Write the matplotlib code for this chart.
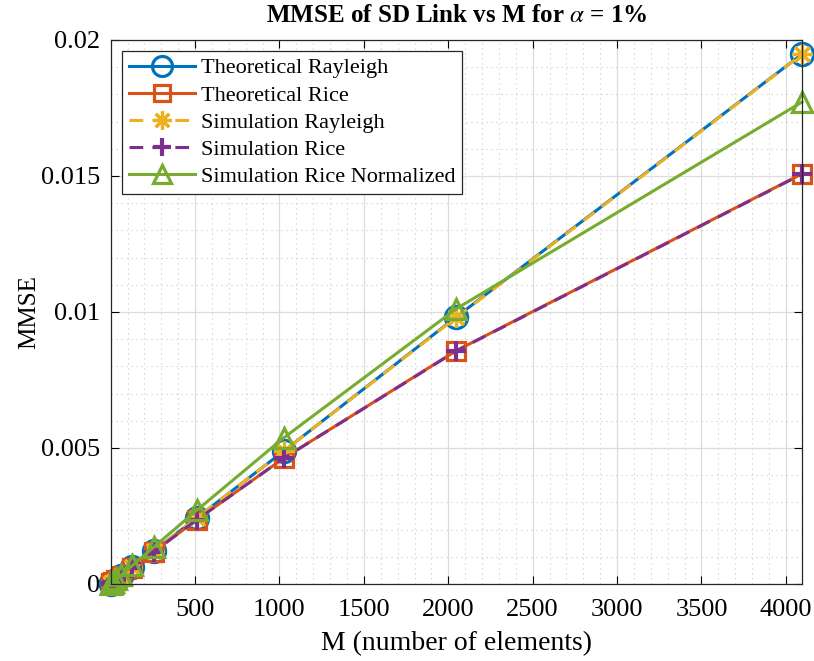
import matplotlib
matplotlib.use("Agg")
import matplotlib.pyplot as plt
from matplotlib.ticker import MultipleLocator

plt.rcParams['font.family'] = ['Liberation Serif', 'DejaVu Serif']
plt.rcParams['mathtext.fontset'] = 'stix'

M = [2, 4, 8, 16, 32, 64, 128, 256, 512, 1024, 2048, 4096]

theo_rayleigh = [0.0000095, 0.000019, 0.000038, 0.000076, 0.000152, 0.000305,
                 0.00061, 0.00122, 0.00244, 0.00488, 0.00982, 0.01948]
theo_rice = [0.0000095, 0.000019, 0.000038, 0.000075, 0.00015, 0.000298,
             0.000595, 0.00119, 0.00237, 0.00462, 0.00858, 0.01508]
sim_rayleigh = [0.0000095, 0.000019, 0.000038, 0.000076, 0.000152, 0.000305,
                0.00061, 0.00122, 0.00244, 0.00488, 0.00980, 0.01947]
sim_rice = [0.0000095, 0.000019, 0.000038, 0.000075, 0.00015, 0.000298,
            0.000595, 0.00119, 0.00237, 0.00462, 0.00857, 0.01507]
sim_rice_norm = [0.0000105, 0.000021, 0.000042, 0.000084, 0.000168, 0.000336,
                 0.00068, 0.00136, 0.00272, 0.00537, 0.01012, 0.01772]

labels = ['Theoretical Rayleigh', 'Theoretical Rice', 'Simulation Rayleigh',
          'Simulation Rice', 'Simulation Rice Normalized']
colors = ['#0072BD', '#D95319', '#EDB120', '#7E2F8E', '#77AC30']

fig = plt.figure(figsize=(8.14, 6.61), dpi=100)
ax = fig.add_axes([0.1364, 0.1165, 0.8489, 0.823])

lw = 2.2
common = dict(lw=lw, clip_on=False)
ax.plot(M, theo_rayleigh, '-', marker='o', color=colors[0], ms=16,
        mew=2.3, mfc='none', label=labels[0], **common)
ax.plot(M, theo_rice, '-', marker='s', color=colors[1], ms=13,
        mew=2.3, mfc='none', label=labels[1], **common)
ax.plot(M, sim_rayleigh, '--', marker=(8, 2, 0), color=colors[2], ms=15,
        mew=2.3, label=labels[2], dashes=(4.5, 3), **common)
ax.plot(M, sim_rice, '--', marker='+', color=colors[3], ms=15,
        mew=3, label=labels[3], dashes=(4.5, 3), **common)
ax.plot(M, sim_rice_norm, '-', marker='^', color=colors[4], ms=15,
        mew=2.3, mfc='none', label=labels[4], **common)

ax.set_xlim(2, 4096)
ax.set_ylim(0, 0.02)
ax.set_xticks([500, 1000, 1500, 2000, 2500, 3000, 3500, 4000])
ax.set_yticks([0, 0.005, 0.01, 0.015, 0.02])
ax.set_yticklabels(['0', '0.005', '0.01', '0.015', '0.02'])
ax.xaxis.set_minor_locator(MultipleLocator(100))
ax.yaxis.set_minor_locator(MultipleLocator(0.001))

ax.grid(which='major', color='#dcdcdc', lw=0.9, ls='-')
ax.grid(which='minor', color='#c8c8c8', lw=0.8, ls=(0, (1, 3.5)))
ax.set_axisbelow(True)

ax.tick_params(which='both', direction='in', top=True, right=True,
               labelsize=19, length=6, width=0.8)
ax.tick_params(axis='x', pad=11)
ax.tick_params(axis='y', pad=8)
ax.tick_params(which='minor', length=0)
for s in ax.spines.values():
    s.set_linewidth(0.9)
    s.set_color('#262626')

ax.set_xlabel('M (number of elements)', fontsize=20, labelpad=7)
ax.set_ylabel('MMSE', fontsize=18, labelpad=0)
ax.set_title(r'MMSE of SD Link vs M for $\alpha$ = 1%', fontsize=18,
             fontweight='bold', pad=13)

leg = ax.legend(loc='upper left', fontsize=16, handlelength=3.0,
                borderaxespad=0.5, fancybox=False, edgecolor='#262626',
                framealpha=1, labelspacing=0.3, borderpad=0.3,
                handletextpad=0.25, markerscale=0.9)
leg.get_frame().set_linewidth(0.9)

fig.savefig('out.png', dpi=100)
